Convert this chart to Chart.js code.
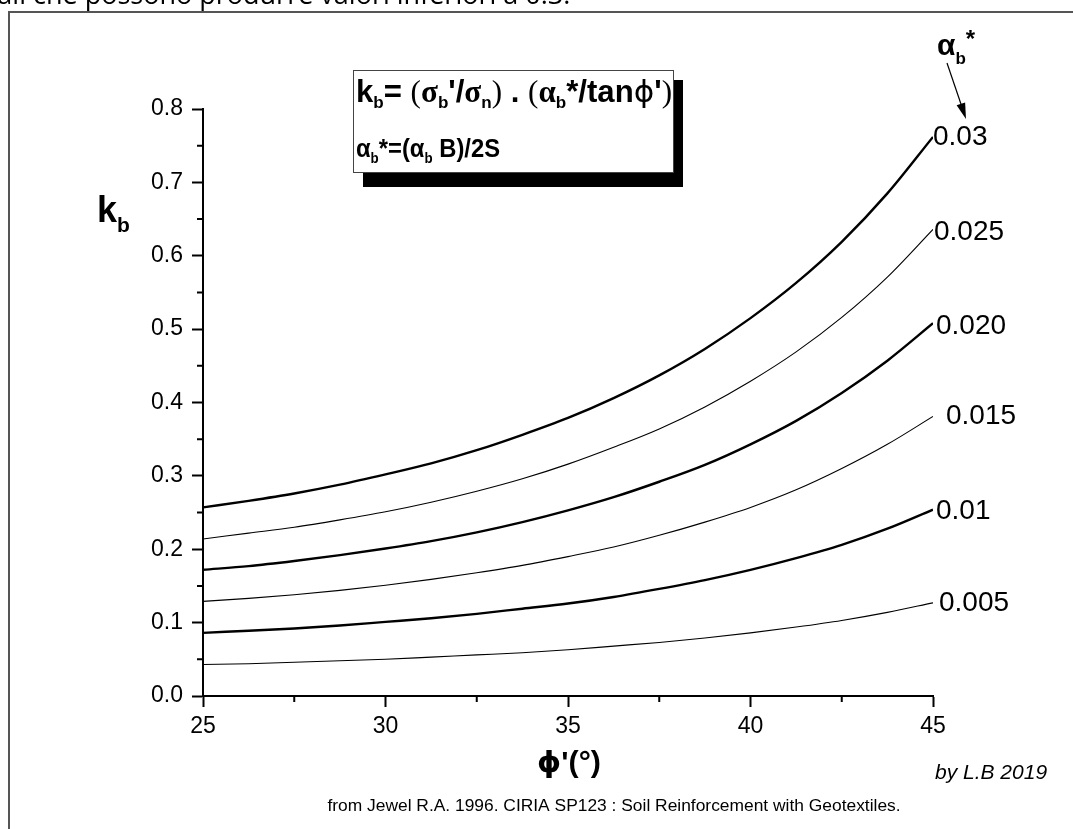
<!DOCTYPE html>
<html>
<head>
<meta charset="utf-8">
<script src="https://cdn.jsdelivr.net/npm/chart.js@4.4.1/dist/chart.umd.min.js"></script>
<style>
    html, body { margin: 0; padding: 0; background: #fff; }
    canvas { display: block; }
</style>
</head>
<body>
<canvas id="kbChart" width="1073" height="829"></canvas>
<script>
// friction angle phi' (deg)
const phi = [25, 26.25, 27.5, 28.75, 30, 31.25, 32.5, 33.75, 35, 36.25, 37.5, 38.75, 40, 41.25, 42.5, 43.75, 45];

// alpha_b* of each curve, bottom to top
const alphaLabels = ['0.005', '0.01', '0.015', '0.020', '0.025', '0.03'];

// kb
const kb005 = [0.043, 0.044, 0.046, 0.048, 0.050, 0.053, 0.056, 0.059, 0.063, 0.068, 0.073, 0.079, 0.086, 0.094, 0.103, 0.114, 0.127];
const kb010 = [0.086, 0.089, 0.092, 0.096, 0.101, 0.106, 0.112, 0.119, 0.126, 0.135, 0.146, 0.158, 0.172, 0.188, 0.206, 0.228, 0.254];
const kb015 = [0.129, 0.133, 0.138, 0.144, 0.151, 0.159, 0.168, 0.178, 0.190, 0.203, 0.219, 0.237, 0.257, 0.281, 0.310, 0.343, 0.381];
const kb020 = [0.172, 0.177, 0.184, 0.192, 0.201, 0.211, 0.223, 0.237, 0.253, 0.271, 0.292, 0.315, 0.343, 0.375, 0.413, 0.457, 0.508];
const kb025 = [0.214, 0.222, 0.230, 0.240, 0.251, 0.264, 0.279, 0.296, 0.316, 0.339, 0.364, 0.394, 0.429, 0.469, 0.516, 0.571, 0.636];
const kb030 = [0.257, 0.266, 0.276, 0.288, 0.302, 0.317, 0.335, 0.356, 0.379, 0.406, 0.437, 0.473, 0.515, 0.563, 0.619, 0.685, 0.762];

const xTicks = [25, 30, 35, 40, 45];
const yTicks = [0.0, 0.1, 0.2, 0.3, 0.4, 0.5, 0.6, 0.7, 0.8];

const series = [kb005, kb010, kb015, kb020, kb025, kb030];
const lineWidths = [1.1, 2.4, 1.1, 2.4, 1.1, 2.4];
const labelShiftX = [6, 3, 13, 3, 1, 0];
const labelShiftY = [0, 2, 0, 3, 3, 0];

const SANS = '"Liberation Sans", Arial, sans-serif';
const SERIF = '"Liberation Serif", "Times New Roman", serif';
const PHI = '\u03D5';
Chart.defaults.font.family = SANS;
Chart.defaults.color = '#000';

// draw a run of text pieces (sub/superscripts), optionally squeezed to a width
const drawRich = (ctx, parts, x, y, targetWidth) => {
    let total = 0;
    parts.forEach((p) => {
        ctx.font = p.font;
        total += ctx.measureText(p.t).width;
    });
    const k = targetWidth ? targetWidth / total : 1;
    ctx.save();
    ctx.textAlign = 'left';
    ctx.translate(x, y);
    ctx.scale(k, 1);
    let cx = 0;
    parts.forEach((p) => {
        ctx.font = p.font;
        ctx.fillText(p.t, cx, p.dy || 0);
        cx += ctx.measureText(p.t).width;
    });
    ctx.restore();
};

const overlay = {
    id: 'overlay',
    beforeDraw(chart) {
        const { ctx, width, height } = chart;
        ctx.save();
        ctx.fillStyle = '#fff';
        ctx.fillRect(0, 0, width, height);

        // cut off sentence from the page above
        ctx.fillStyle = '#000';
        ctx.font = '27px "Open Sans", sans-serif';
        ctx.textBaseline = 'alphabetic';
        const head = 'tali ';
        ctx.fillText(head + 'che possono produrre valori inferiori a 0.3.', 33 - ctx.measureText(head).width, 4);

        // frame of the figure
        ctx.strokeStyle = '#555';
        ctx.lineWidth = 2;
        ctx.beginPath();
        ctx.moveTo(9, height + 5);
        ctx.lineTo(9, 12);
        ctx.lineTo(width + 5, 12);
        ctx.stroke();
        ctx.restore();
    },
    afterDraw(chart) {
        const { ctx, scales: { x, y } } = chart;
        ctx.save();
        ctx.strokeStyle = '#000';
        ctx.fillStyle = '#000';

        // minor ticks halfway between major ones
        ctx.lineWidth = 2;
        ctx.beginPath();
        for (let i = 0; i < x.ticks.length - 1; i++) {
            const px = x.getPixelForValue((x.ticks[i].value + x.ticks[i + 1].value) / 2);
            ctx.moveTo(px, y.bottom);
            ctx.lineTo(px, y.bottom + 6);
        }
        for (let i = 0; i < y.ticks.length - 1; i++) {
            const py = y.getPixelForValue((y.ticks[i].value + y.ticks[i + 1].value) / 2);
            ctx.moveTo(x.left, py);
            ctx.lineTo(x.left - 6, py);
        }
        ctx.stroke();

        // curve labels at the end of each line
        ctx.font = '28px ' + SANS;
        ctx.textBaseline = 'middle';
        ctx.textAlign = 'left';
        chart.data.datasets.forEach((ds, i) => {
            const meta = chart.getDatasetMeta(i);
            const last = meta.data[meta.data.length - 1];
            ctx.fillText(alphaLabels[i], last.x + labelShiftX[i], last.y + labelShiftY[i]);
        });

        // alpha_b* header and arrow
        ctx.textBaseline = 'alphabetic';
        drawRich(ctx, [
            { t: 'α', font: 'bold 30px ' + SANS },
            { t: 'b', font: 'bold 17px ' + SANS, dy: 9 },
            { t: '*', font: 'bold 24px ' + SANS, dy: -8 }
        ], 937, 55);
        ctx.lineWidth = 1.2;
        ctx.beginPath();
        ctx.moveTo(947, 63);
        ctx.lineTo(963, 110);
        ctx.stroke();
        const ang = Math.atan2(119 - 63, 966 - 947);
        ctx.beginPath();
        ctx.moveTo(966, 119);
        ctx.lineTo(966 - 16 * Math.cos(ang) + 4.5 * Math.sin(ang), 119 - 16 * Math.sin(ang) - 4.5 * Math.cos(ang));
        ctx.lineTo(966 - 16 * Math.cos(ang) - 4.5 * Math.sin(ang), 119 - 16 * Math.sin(ang) + 4.5 * Math.cos(ang));
        ctx.closePath();
        ctx.fill();

        // formula box with shadow
        ctx.fillStyle = '#000';
        ctx.fillRect(363, 80, 320, 107);
        ctx.fillStyle = '#fff';
        ctx.fillRect(353, 70, 321, 103);
        ctx.strokeStyle = '#444';
        ctx.lineWidth = 1;
        ctx.strokeRect(353.5, 70.5, 320, 102);
        ctx.fillStyle = '#000';
        const B30 = 'bold 31px ' + SANS;
        const G30 = 'bold 31px ' + SERIF;
        const S30 = '31px ' + SERIF;
        const B17 = 'bold 17px ' + SANS;
        drawRich(ctx, [
            { t: 'k', font: B30 },
            { t: 'b', font: B17, dy: 6 },
            { t: '= ', font: B30 },
            { t: '(', font: S30 },
            { t: 'σ', font: G30 },
            { t: 'b', font: B17, dy: 6 },
            { t: '\'/', font: B30 },
            { t: 'σ', font: G30 },
            { t: 'n', font: B17, dy: 6 },
            { t: ')', font: S30 },
            { t: ' . ', font: B30 },
            { t: '(', font: S30 },
            { t: 'α', font: G30 },
            { t: 'b', font: B17, dy: 6 },
            { t: '*/tan', font: B30 },
            { t: PHI, font: '31px "DejaVu Sans", sans-serif' },
            { t: '\'', font: B30 },
            { t: ')', font: S30 }
        ], 356, 102, 316);
        const B24 = 'bold 25px ' + SANS;
        const B14 = 'bold 14px ' + SANS;
        drawRich(ctx, [
            { t: 'α', font: B24 },
            { t: 'b', font: B14, dy: 6 },
            { t: '*=(', font: B24 },
            { t: 'α', font: B24 },
            { t: 'b', font: B14, dy: 6 },
            { t: ' B)/2S', font: B24 }
        ], 356, 157, 144);

        // axis titles
        drawRich(ctx, [
            { t: 'k', font: 'bold 36px ' + SANS },
            { t: 'b', font: 'bold 21px ' + SANS, dy: 10 }
        ], 97, 222);
        drawRich(ctx, [
            { t: PHI, font: 'bold 29px "DejaVu Sans", sans-serif' },
            { t: '\'(°)', font: 'bold 29px ' + SANS }
        ], 537, 772, 64);

        // credits
        ctx.textAlign = 'left';
        ctx.font = 'italic 21px ' + SANS;
        ctx.fillText('by L.B 2019', 935, 779);
        ctx.font = '17.4px ' + SANS;
        ctx.textAlign = 'center';
        ctx.fillText('from Jewel R.A. 1996. CIRIA SP123 : Soil Reinforcement with Geotextiles.', 614, 811);
        ctx.restore();
    }
};

const ctx = document.getElementById('kbChart');
new Chart(ctx, {
    type: 'line',
    data: {
        datasets: series.map((values, i) => ({
            label: alphaLabels[i],
            data: phi.map((p, j) => ({ x: p, y: values[j] })),
            borderColor: '#000',
            borderWidth: lineWidths[i],
            pointRadius: 0,
            fill: false,
            cubicInterpolationMode: 'monotone'
        }))
    },
    options: {
        responsive: false,
        animation: false,
        events: [],
        layout: { padding: { left: 0, top: 109, right: 140, bottom: 93 } },
        plugins: {
            legend: { display: false },
            tooltip: { enabled: false }
        },
        scales: {
            x: {
                type: 'linear',
                min: xTicks[0],
                max: xTicks[xTicks.length - 1],
                afterBuildTicks(scale) {
                    scale.ticks = xTicks.map((v) => ({ value: v }));
                },
                afterFit(scale) {
                    scale.height = 40;
                },
                ticks: {
                    font: { size: 23 },
                    color: '#000',
                    padding: 6,
                    maxRotation: 0,
                    callback: (v) => String(v)
                },
                grid: {
                    drawOnChartArea: false,
                    tickLength: 11,
                    tickWidth: 2,
                    tickColor: '#000'
                },
                border: { color: '#000', width: 2 }
            },
            y: {
                type: 'linear',
                min: yTicks[0],
                max: yTicks[yTicks.length - 1],
                afterBuildTicks(scale) {
                    scale.ticks = yTicks.map((v) => ({ value: v }));
                },
                afterFit(scale) {
                    scale.width = 203;
                },
                ticks: {
                    font: { size: 23 },
                    color: '#000',
                    padding: 9,
                    callback: (v) => Number(v).toFixed(1)
                },
                grid: {
                    drawOnChartArea: false,
                    tickLength: 11,
                    tickWidth: 2,
                    tickColor: '#000'
                },
                border: { color: '#000', width: 2 }
            }
        }
    },
    plugins: [overlay]
});
</script>
</body>
</html>
